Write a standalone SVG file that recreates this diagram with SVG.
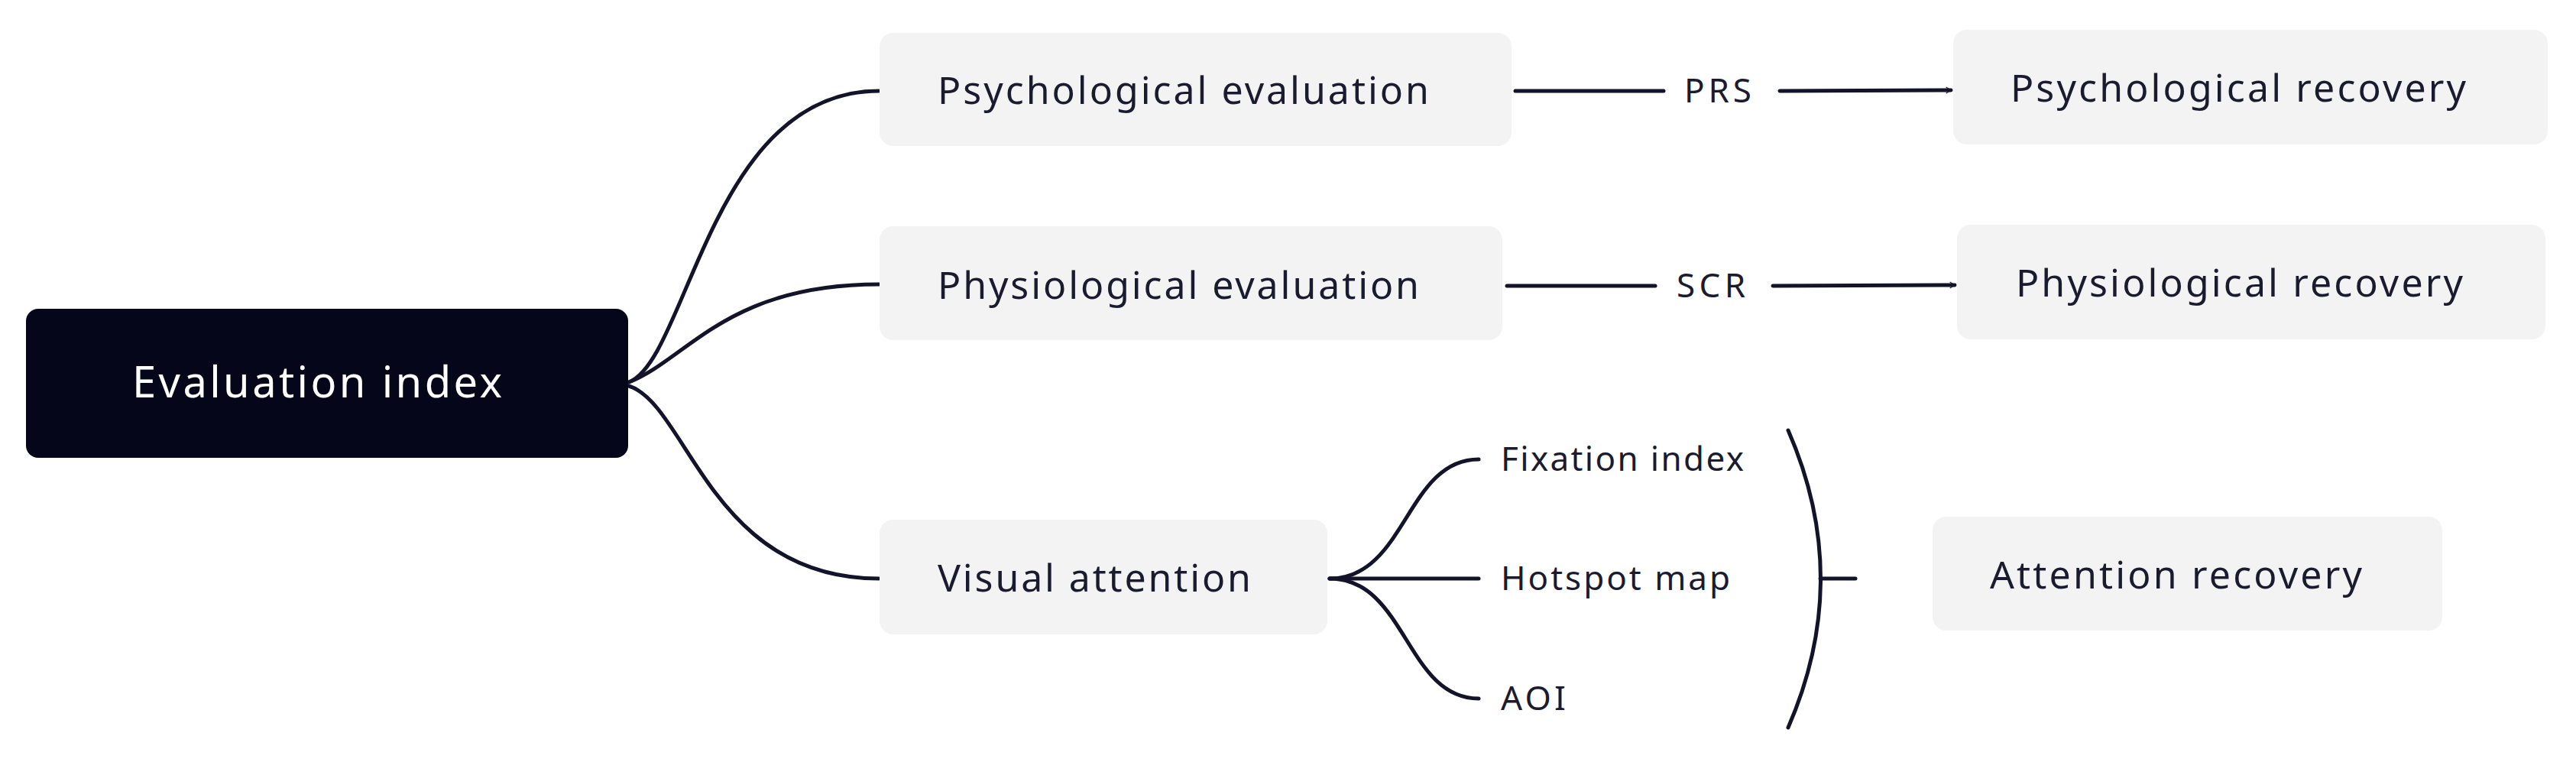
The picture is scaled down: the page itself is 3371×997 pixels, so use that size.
<svg xmlns="http://www.w3.org/2000/svg" width="3371" height="997" viewBox="0 0 3371 997">
<defs>
<style>
.box{fill:#f3f3f3}
.t{font-family:"Noto Sans","Open Sans",sans-serif;fill:#1b1b2f;font-size:50px}
.s{font-family:"Noto Sans","Open Sans",sans-serif;fill:#1b1b2f;font-size:44px}
.c{fill:none;stroke:#13132a;stroke-width:5;stroke-linecap:round}
</style>
<marker id="ah" viewBox="0 0 20 20" refX="17" refY="10" markerWidth="9" markerHeight="9" markerUnits="userSpaceOnUse" orient="auto" overflow="visible">
<path d="M3,1 L17,10 L3,19" fill="none" stroke="#13132a" stroke-width="2.5"/>
</marker>
</defs>
<rect width="3371" height="997" fill="#fff"/>
<g id="connectors">
<path class="c" d="M823,500 C900,470 930,119 1150,119"/>
<path class="c" d="M823,500 C900,470 950,372 1150,372"/>
<path class="c" d="M823,505 C900,530 930,757 1150,757"/>
<path class="c" d="M1983,119 L2177,119"/>
<path class="c" d="M2329,119 L2553,118" marker-end="url(#ah)" style="stroke-width:5"/>
<path class="c" d="M1972,374 L2166,374"/>
<path class="c" d="M2320,374 L2558,373" marker-end="url(#ah)"/>
<path class="c" d="M1740,757 C1840,757 1840,601 1935,601"/>
<path class="c" d="M1740,757 L1935,757"/>
<path class="c" d="M1740,757 C1840,757 1840,914 1935,914"/>
<path class="c" d="M2340,563 Q2425,757 2340,952"/>
<path class="c" d="M2382,757 L2428,757"/>
</g>
<g id="n0"><rect x="34" y="404" width="788" height="195" rx="16" fill="#06061a"/><text x="173" y="520" font-family="Noto Sans,Open Sans,sans-serif" font-size="56" fill="#fff" textLength="484">Evaluation index</text></g>
<g id="n1"><rect class="box" x="1151" y="43" width="827" height="148" rx="18"/><text class="t" x="1227" y="136" textLength="643">Psychological evaluation</text></g>
<g id="n2"><rect class="box" x="1151" y="296" width="815" height="149" rx="18"/><text class="t" x="1227" y="391" textLength="630">Physiological evaluation</text></g>
<g id="n3"><rect class="box" x="1151" y="680" width="586" height="150" rx="18"/><text class="t" x="1227" y="774" textLength="410">Visual attention</text></g>
<g id="l1"><text class="s" x="2204" y="134" textLength="88">PRS</text></g>
<g id="l2"><text class="s" x="2194" y="389" textLength="90">SCR</text></g>
<g id="n4"><rect class="box" x="2556" y="39" width="778" height="150" rx="18"/><text class="t" x="2631" y="133" textLength="596">Psychological recovery</text></g>
<g id="n5"><rect class="box" x="2561" y="294" width="770" height="150" rx="18"/><text class="t" x="2638" y="388" textLength="585">Physiological recovery</text></g>
<g id="n6"><text class="s" x="1964" y="616" textLength="318">Fixation index</text></g>
<g id="n7"><text class="s" x="1964" y="772" textLength="300">Hotspot map</text></g>
<g id="n8"><text class="s" x="1964" y="929" textLength="85">AOI</text></g>
<g id="n9"><rect class="box" x="2529" y="676" width="667" height="149" rx="18"/><text class="t" x="2604" y="770" textLength="487">Attention recovery</text></g>
</svg>
